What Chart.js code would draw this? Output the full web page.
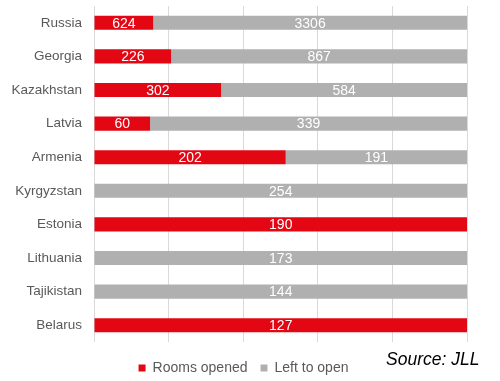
<!DOCTYPE html>
<html><head><meta charset="utf-8">
<script src="https://cdn.jsdelivr.net/npm/chart.js@4.4.1/dist/chart.umd.min.js"></script>
<style>
html,body{margin:0;padding:0;background:#fff;}
#wrap{position:relative;width:500px;height:381px;}
#src{position:absolute;left:386px;top:349px;font:italic 17.5px "Liberation Sans",Arial,sans-serif;color:#000;white-space:nowrap;}
</style></head>
<body><div id="wrap"><canvas id="c" width="500" height="381"></canvas><div id="src">Source: JLL</div></div>
<script>
const categories = ["Russia","Georgia","Kazakhstan","Latvia","Armenia","Kyrgyzstan","Estonia","Lithuania","Tajikistan","Belarus"];
const roomsOpened = [624,226,302,60,202,0,190,0,0,127];
const leftToOpen = [3306,867,584,339,191,254,0,173,144,0];
const xTicks = [0,20,40,60,80,100];

const totals = categories.map((_,i)=>roomsOpened[i]+leftToOpen[i]);
const pct = arr => arr.map((v,i)=> totals[i] ? v/totals[i]*100 : 0);
const FONT = '"Liberation Sans", Arial, sans-serif';

const labelPlugin = {
  id:'segLabels',
  afterDatasetsDraw(chart){
    const ctx = chart.ctx;
    ctx.save();
    ctx.font = '14px ' + FONT;
    ctx.fillStyle = '#fff';
    ctx.textAlign = 'center';
    ctx.textBaseline = 'middle';
    chart.data.datasets.forEach((ds,di)=>{
      const meta = chart.getDatasetMeta(di);
      meta.data.forEach((bar,i)=>{
        const v = ds.raw[i];
        if(!v) return;
        const l = Math.min(bar.x, bar.base), r = Math.max(bar.x, bar.base);
        ctx.fillText(String(v), (l+r)/2, bar.y+1);
      });
    });
    ctx.restore();
  }
};

new Chart(document.getElementById('c'), {
  type:'bar',
  data:{
    labels:categories,
    datasets:[
      {label:'Rooms opened', data:pct(roomsOpened), raw:roomsOpened, backgroundColor:'#E30613', borderWidth:0},
      {label:'Left to open', data:pct(leftToOpen), raw:leftToOpen, backgroundColor:'#B0B0B1', borderWidth:0}
    ]
  },
  options:{
    indexAxis:'y',
    responsive:false,
    animation:false,
    devicePixelRatio:1,
    layout:{padding:{top:6,right:13,left:0,bottom:-4}},
    datasets:{bar:{barPercentage:0.42,categoryPercentage:1}},
    scales:{
      x:{
        stacked:true, min:0, max:100,
        afterBuildTicks(s){ s.ticks = xTicks.map(v=>({value:v})); },
        ticks:{display:false},
        grid:{color:'#D9D9D9', lineWidth:1, drawTicks:false},
        border:{display:false},
        afterFit(s){ s.height = 6; s.paddingLeft=0; s.paddingRight=0; }
      },
      y:{
        stacked:true,
        ticks:{color:'#595959', font:{size:13.5, family:FONT}, padding:12},
        grid:{display:false, drawTicks:false},
        border:{display:false},
        afterFit(s){ s.width = 94; s.paddingTop = 0; s.paddingBottom = 0; }
      },
      yPad:{
        type:'category', position:'right', axis:'y',
        ticks:{display:false},
        grid:{display:false, drawTicks:false},
        border:{display:false},
        afterFit(s){ s.width = 20; s.paddingTop = 0; s.paddingBottom = 0; }
      }
    },
    plugins:{
      legend:{
        position:'bottom',
        labels:{boxWidth:7, boxHeight:7, color:'#595959', padding:13,
          font:{size:14, family:FONT}}
      },
      tooltip:{enabled:false}
    }
  },
  plugins:[labelPlugin]
});
</script></body></html>
